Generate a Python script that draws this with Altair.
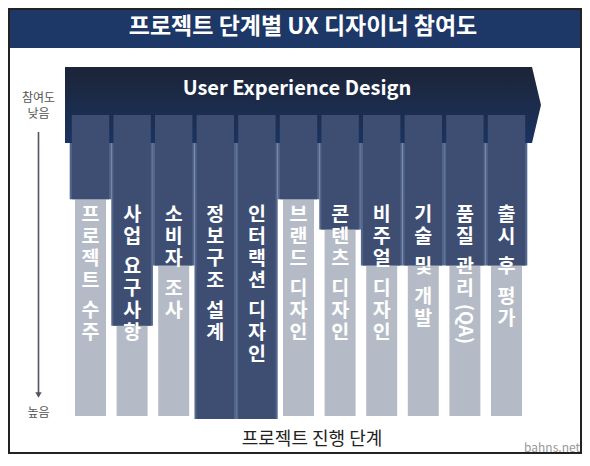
import re
import altair as alt
import pandas as pd

# ---------------- data ----------------
stages = ["프로젝트 수주", "사업 요구사항", "소비자 조사", "정보구조 설계", "인터랙션 디자인",
          "브랜드 디자인", "콘텐츠 디자인", "비주얼 디자인", "기술 및 개발", "품질 관리(QA)", "출시 후 평가"]
# depth of UX-designer participation (0 = top/low, 100 = bottom/high)
participation = [28, 70, 50, 101, 101, 28, 38, 50, 50, 50, 50]
full_level = [100, 100, 100, 100, 100, 100, 100, 100, 100, 100, 100]

title_text = "프로젝트 단계별 UX 디자이너 참여도"
banner_text = "User Experience Design"
y_low_lines = ["참여도", "낮음"]
y_high_text = "높음"
x_title_text = "프로젝트 진행 단계"
watermark_text = "bahns.net"

# ---------------- layout / style ----------------
W, H = 574, 446
BAND_RANGE = [61.7, 519.3]
Y_RANGE = [107, 408]
FONT = "Noto Sans CJK KR"
LABEL_TOP, PITCH, SPACE_GAP, LATIN_W = 207, 22, 8, 10.5
LABEL_SIZE = 19.5

xscale = alt.Scale(type="band", domain=stages, range=BAND_RANGE, paddingInner=0, paddingOuter=0)
yscale = alt.Scale(domain=[0, 100], range=Y_RANGE, nice=False, zero=True)

bars = pd.DataFrame({"stage": stages, "participation": participation, "full": full_level})

# vertical label layout: one multi-line text per word, Latin runs rotated
word_rows, run_rows = [], []
for s in stages:
    cur = LABEL_TOP
    for wi, w in enumerate(s.split(" ")):
        if wi > 0:
            cur += SPACE_GAP
        for part in re.findall(r"[\x00-\x7f]+|[^\x00-\x7f]+", w):
            if ord(part[0]) < 128:
                length = len(part) * LATIN_W
                start = cur - PITCH / 2 + 3
                run_rows.append({"stage": s, "t": part, "y": start + length / 2})
                cur = start + length + PITCH / 2
            else:
                word_rows.append({"stage": s, "t": "\n".join(part), "y": cur})
                cur += PITCH * len(part)
words = pd.DataFrame(word_rows)
runs = pd.DataFrame(run_rows)

one = alt.Data(values=[{}])
banner_shape = pd.DataFrame({"y": [59, 97, 135], "x": [524, 533, 524], "x0": [57, 57, 57]})

title_bar = alt.Chart(one).mark_rect(color="#1d3766").encode(
    x=alt.value(0), x2=alt.value(W), y=alt.value(0), y2=alt.value(40))
title = alt.Chart(one).mark_text(text=title_text, font=FONT, fontSize=23, fontWeight="bold",
                                 color="white", baseline="middle", align="center").encode(
    x=alt.value(295), y=alt.value(19))

light = alt.Chart(bars).mark_bar(color="#53668b").encode(
    x=alt.X("stage:N", scale=xscale, axis=None),
    y=alt.Y("participation:Q", scale=yscale, axis=None))

grad = alt.LinearGradient(gradient="linear",
                          stops=[alt.GradientStop(color="#1c2437", offset=0),
                                 alt.GradientStop(color="#1a3360", offset=1)],
                          x1=0, x2=0, y1=0, y2=1)
banner = alt.Chart(banner_shape).mark_area(orient="horizontal", color=grad).encode(
    y=alt.Y("y:Q", scale=None, axis=None),
    x=alt.X("x:Q", scale=None, axis=None),
    x2="x0:Q")
banner_label = alt.Chart(one).mark_text(text=banner_text, font=FONT, fontSize=20, fontWeight="bold",
                                        color="white", baseline="middle", align="center").encode(
    x=alt.value(289), y=alt.value(81))

gray = alt.Chart(bars).mark_bar(color="#b5bbc6", width=alt.RelativeBandSize(0.745)).encode(
    x=alt.X("stage:N", scale=xscale, axis=None),
    y=alt.Y("full:Q", scale=yscale, axis=None))
dark = alt.Chart(bars).mark_bar(color="#3d4e72", width=alt.RelativeBandSize(0.9)).encode(
    x=alt.X("stage:N", scale=xscale, axis=None),
    y=alt.Y("participation:Q", scale=yscale, axis=None))

label_words = alt.Chart(words).mark_text(font=FONT, fontSize=LABEL_SIZE, fontWeight="bold", color="white",
                                         baseline="middle", align="center", lineBreak="\n",
                                         lineHeight=PITCH).encode(
    x=alt.X("stage:N", scale=xscale, axis=None),
    y=alt.Y("y:Q", scale=None, axis=None),
    text="t:N")
label_runs = alt.Chart(runs).mark_text(font=FONT, fontSize=LABEL_SIZE - 1, fontWeight="bold", color="white",
                                       baseline="middle", align="center", angle=90).encode(
    x=alt.X("stage:N", scale=xscale, axis=None),
    y=alt.Y("y:Q", scale=None, axis=None),
    text="t:N")

ylow = alt.Chart(one).mark_text(text=y_low_lines, font=FONT, fontSize=12, color="#555",
                                baseline="middle", align="center", lineHeight=15.5).encode(
    x=alt.value(30.5), y=alt.value(90))
arrow = alt.Chart(one).mark_rule(color="#50555e", strokeWidth=1.6).encode(
    x=alt.value(30.5), y=alt.value(124), y2=alt.value(388))
arrow_head = alt.Chart(one).mark_point(shape="triangle-down", filled=True, size=40,
                                       color="#50555e", opacity=1).encode(
    x=alt.value(30.5), y=alt.value(387))
yhigh = alt.Chart(one).mark_text(text=y_high_text, font=FONT, fontSize=12, color="#555",
                                 baseline="middle", align="center").encode(
    x=alt.value(30.5), y=alt.value(405))
xtitle = alt.Chart(one).mark_text(text=x_title_text, font=FONT, fontSize=18, color="#222",
                                  baseline="middle", align="center").encode(
    x=alt.value(304), y=alt.value(432))
wm = alt.Chart(one).mark_text(text=watermark_text, font=FONT, fontSize=12, color="#999",
                              baseline="middle", align="right").encode(
    x=alt.value(572), y=alt.value(440))
frame = alt.Chart(one).mark_rect(fillOpacity=0, stroke="#222", strokeWidth=2).encode(
    x=alt.value(1), x2=alt.value(W - 1), y=alt.value(1), y2=alt.value(H - 1))

chart = alt.layer(
    title_bar, title, light, banner, banner_label, gray, dark, label_words, label_runs,
    ylow, arrow, arrow_head, yhigh, xtitle, wm, frame
).resolve_scale(x="independent", y="independent").properties(
    width=W, height=H, padding=0, autosize=alt.AutoSizeParams(type="none"), background="white"
).configure_view(strokeWidth=0)

chart.save("out.html", embed_options={"renderer": "svg", "actions": False})
